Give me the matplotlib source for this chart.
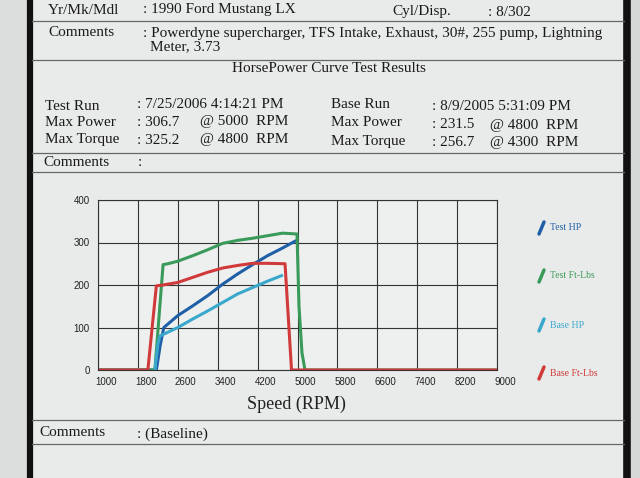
import matplotlib.pyplot as plt
from matplotlib.lines import Line2D
import matplotlib.transforms as mtransforms

# dyno data (rpm, value)
test_hp_rpm = [1000, 2170, 2250, 2320, 2600, 2900, 3200, 3500, 3800, 4100, 4400, 4700, 4950]
test_hp = [0, 0, 60, 100, 128, 151, 175, 202, 226, 248, 269, 287, 303]

test_tq_rpm = [1000, 2140, 2305, 2400, 2600, 2900, 3200, 3500, 3800, 4100, 4400, 4700, 4990, 5030, 5090, 5150, 9000]
test_tq = [0, 0, 248, 250, 256, 269, 283, 298, 305, 310, 316, 322, 320, 150, 40, 0, 0]

base_hp_rpm = [2140, 2200, 2240, 2600, 2900, 3200, 3500, 3800, 4100, 4400, 4680]
base_hp = [0, 60, 80, 100, 120, 139, 159, 179, 194, 209, 222]

base_tq_rpm = [1000, 2000, 2170, 2300, 2600, 2900, 3200, 3500, 3800, 4100, 4400, 4750, 4880, 9000]
base_tq = [0, 0, 198, 200, 206, 218, 230, 240, 246, 251, 251, 250, 0, 0]

x_ticks = [1000, 1800, 2600, 3400, 4200, 5000, 5800, 6600, 7400, 8200, 9000]
y_ticks = [0, 100, 200, 300, 400]

series_names = ["Test HP", "Test Ft-Lbs", "Base HP", "Base Ft-Lbs"]
colors = ['#1f5fa8', '#3a9a5a', '#3aa8cc', '#d03a3a']

paper = '#e9ebea'
serif = 'Liberation Serif'

fig = plt.figure(figsize=(6.4, 4.78), dpi=100)
fig.patch.set_facecolor(paper)

W, H = 640.0, 478.0


def fx(x):
    return x / W


def fy(y):
    return 1 - y / H


# outside of the page and the dark borders
fig.add_artist(plt.Rectangle((0, 0), fx(27), 1, transform=fig.transFigure, color='#dcdedd', zorder=0))
fig.add_artist(plt.Rectangle((fx(631), 0), 1, 1, transform=fig.transFigure, color='#d6d8d7', zorder=0))
fig.add_artist(Line2D([fx(30), fx(30)], [0, 1], transform=fig.transFigure, color='#111', lw=4.5))
fig.add_artist(Line2D([fx(627), fx(627)], [0, 1], transform=fig.transFigure, color='#111', lw=5.5))

# table rules
for y in [21, 60, 153, 172, 420, 444]:
    fig.add_artist(Line2D([fx(32), fx(624)], [fy(y), fy(y)], transform=fig.transFigure,
                          color='#666', lw=0.9))

def txt(x, y, s, size=11, **kw):
    fig.text(fx(x), fy(y), s, fontsize=size, family=serif, color='#1a1a1a', va='center', **kw)


txt(48, 11, "Yr/Mk/Mdl")
txt(143, 10, ": 1990 Ford Mustang LX")
txt(392, 11, "Cyl/Disp.")
txt(488, 12, ": 8/302")
txt(48, 32, "Comments")
txt(143, 33, ": Powerdyne supercharger, TFS Intake, Exhaust, 30#, 255 pump, Lightning")
txt(150, 47, "Meter, 3.73")
txt(329, 69, "HorsePower Curve Test Results", ha='center')

txt(45, 106, "Test Run")
txt(137, 105, ": 7/25/2006 4:14:21 PM")
txt(331, 105, "Base Run")
txt(432, 107, ": 8/9/2005 5:31:09 PM")
txt(45, 123, "Max Power")
txt(137, 122, ": 306.7")
txt(200, 122, "@ 5000  RPM")
txt(331, 122, "Max Power")
txt(432, 124, ": 231.5")
txt(490, 125, "@ 4800  RPM")
txt(45, 140, "Max Torque")
txt(137, 140, ": 325.2")
txt(200, 140, "@ 4800  RPM")
txt(331, 141, "Max Torque")
txt(432, 142, ": 256.7")
txt(490, 143, "@ 4300  RPM")
txt(43, 163, "Comments")
txt(138, 163, ":")

txt(39, 432, "Comments")
txt(137, 434, ": (Baseline)")

# chart
ax = fig.add_axes([fx(98), fy(370), fx(497) - fx(98), (370 - 200) / H])
ax.set_facecolor('#eef0ef')
ax.plot(test_hp_rpm, test_hp, color=colors[0], lw=2.2)
ax.plot(test_tq_rpm, test_tq, color=colors[1], lw=2.2)
ax.plot(base_hp_rpm, base_hp, color=colors[2], lw=2.2)
ax.plot(base_tq_rpm, base_tq, color=colors[3], lw=2.2)
ax.set_xlim(1000, 9000)
ax.set_ylim(0, 400)
ax.set_xticks(x_ticks)
ax.set_yticks(y_ticks)
ax.grid(True, color='#333', lw=0.8)
ax.set_axisbelow(True)
ax.tick_params(length=0, labelsize=7, colors='#222', pad=5)
ax.tick_params(axis='y', pad=6)
for lab in ax.get_xticklabels() + ax.get_yticklabels():
    lab.set_family('Liberation Sans')
# printout puts x labels just right of each grid line
shift = mtransforms.ScaledTranslation(8 / 100, 0, fig.dpi_scale_trans)
for lab in ax.get_xticklabels():
    lab.set_transform(lab.get_transform() + shift)
for s in ax.spines.values():
    s.set_color('#333')
    s.set_linewidth(0.8)

fig.text(fx(296), fy(404), "Speed (RPM)", fontsize=13, family=serif, ha='center', va='center',
         color='#222')

# legend on the right
leg_y = [228, 276, 325, 373]
for name, c, y in zip(series_names, colors, leg_y):
    fig.add_artist(Line2D([fx(539), fx(544)], [fy(y + 6), fy(y - 6)], transform=fig.transFigure,
                          color=c, lw=2.5, solid_capstyle='round'))
    fig.text(fx(550), fy(y), name, fontsize=7, family=serif, color=c, va='center')

fig.savefig('out.png', dpi=100, facecolor=fig.get_facecolor())
